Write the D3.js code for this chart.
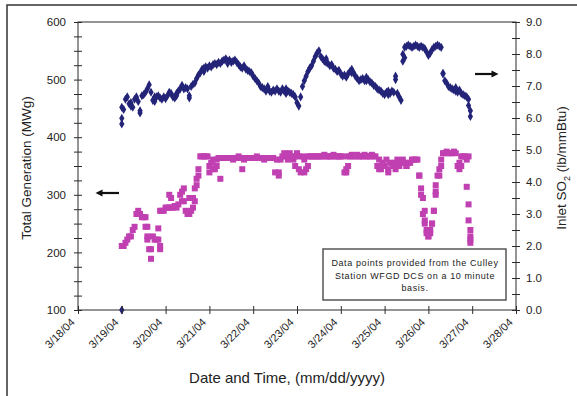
<!DOCTYPE html>
<html>
<head>
<meta charset="utf-8">
<script src="https://cdn.jsdelivr.net/npm/d3@7"></script>
<style>
  body { margin: 0; background: #fff; }
  svg text { font-family: "Liberation Sans", Arial, sans-serif; fill: #222; }
</style>
</head>
<body>
<div id="chart"></div>
<script>
// hourly samples starting 3/19/04 00:00
const genMW = [
  452, 448, 466, 470, 458, 454, 452, 466, 470, 462, 442, 472,
  474, 478, 484, 491, 478, 464, 462, 470, 472, 468, 466, 470,
  467, 472, 478, 476, 470, 468, 472, 480, 484, 490, 484, 486,
  484, 468, 488, 492, 494, 502, 508, 512, 518, 520, 522, 520,
  524, 522, 526, 528, 526, 530, 528, 532, 534, 536, 532, 534,
  530, 532, 534, 530, 526, 522, 520, 524, 518, 516, 514, 512,
  506, 502, 498, 494, 488, 486, 484, 480, 484, 480, 478, 482,
  480, 484, 480, 478, 484, 480, 476, 480, 478, 476, 474, 470,
  460, 454, 470, 488, 498, 506, 514, 520, 524, 532, 540, 546,
  550, 540, 536, 532, 530, 528, 524, 526, 520, 518, 514, 516,
  510, 506, 508, 504, 510, 514, 518, 512, 506, 502, 498, 500,
  502, 498, 504, 500, 496, 494, 490, 488, 484, 482, 480, 476,
  474, 478, 474, 476, 480, 478, 506, 476, 470, 464, 544, 556,
  558, 560, 558, 556, 558, 560, 558, 556, 558, 556, 554, 548,
  542, 546, 552, 556, 558, 560, 558, 556, 510, 498, 494, 488,
  486, 484, 482, 480, 478, 482, 476, 474, 472, 470, 466, 446
];
// extra generation readings: [hour, MWg]
const genExtra = [
  [0, 433], [0, 423], [0, 100], [10, 446], [37, 472], [150, 500],
  [154, 532], [155, 538], [176, 511], [190, 455], [191, 436],
  [5, 460], [18, 470], [30, 476], [45, 514], [58, 528], [80, 488],
  [90, 484], [112, 536], [126, 512], [134, 498], [146, 480], [183, 486]
];

const so2 = [
  2.0, 2.0, 2.1, 2.2, 2.3, 2.3, 2.5, 2.6, 3.0, 3.1, 3.0, 2.9,
  2.9, 2.6, 2.2, 1.9, 1.6, 2.3, 2.2, 2.2, 2.2, 3.1, 3.1, 3.1,
  3.2, 3.2, 3.2, 3.2, 3.2, 3.25, 3.2, 3.3, 3.6, 3.7, 3.4, 3.1,
  3.0, 3.0, 3.1, 3.5, 3.8, 4.1, 4.4, 4.8, 4.8, 4.8, 4.8, 4.8,
  4.5, 4.6, 4.7, 4.4, 4.7, 4.75, 4.1, 4.75, 4.75, 4.75, 4.75, 4.75,
  4.75, 4.7, 4.75, 4.75, 4.8, 4.75, 4.75, 4.7, 4.75, 4.75, 4.75, 4.75,
  4.75, 4.75, 4.8, 4.75, 4.75, 4.75, 4.7, 4.75, 4.75, 4.75, 4.75, 4.75,
  4.3, 4.7, 4.3, 4.7, 4.8, 4.9, 4.8, 4.7, 4.9, 4.8, 4.7, 4.8,
  4.9, 4.8, 4.3, 4.8, 4.7, 4.4, 4.8, 4.8, 4.8, 4.8, 4.8, 4.8,
  4.8, 4.8, 4.8, 4.85, 4.8, 4.8, 4.8, 4.8, 4.85, 4.8, 4.8, 4.8,
  4.8, 4.8, 4.3, 4.4, 4.8, 4.8, 4.85, 4.8, 4.8, 4.85, 4.8, 4.8,
  4.8, 4.85, 4.8, 4.8, 4.8, 4.85, 4.8, 4.8, 4.5, 4.7, 4.4, 4.6,
  4.5, 4.7, 4.4, 4.6, 4.6, 4.5, 4.6, 4.7, 4.5, 4.6, 4.7, 4.6,
  4.5, 4.6, 4.6, 4.7, 4.7, 4.7, 4.7, 4.2, 3.6, 3.0, 2.7, 2.4,
  2.3, 2.5, 2.7, 3.1, 3.7, 4.2, 4.4, 4.7, 4.9, 4.9, 4.95, 4.9,
  4.9, 4.9, 4.95, 4.9, 4.5, 4.6, 4.8, 4.8, 4.8, 4.7, 4.8, 2.2
];
// extra SO2 readings: [hour, lb/mmBtu]
const so2Extra = [
  [13, 2.9], [14, 2.6], [14, 2.3], [16, 1.9], [20, 2.55], [21, 1.9], [21, 2.0],
  [26, 3.6], [27, 3.5], [33, 3.4], [34, 3.8], [37, 3.5], [39, 3.2], [40, 3.4],
  [41, 3.9], [42, 4.2], [48, 4.3], [50, 4.4], [52, 4.5], [66, 4.4], [86, 4.2],
  [95, 4.5], [97, 4.4], [100, 4.3], [102, 4.5], [123, 4.3], [124, 4.5],
  [141, 4.4], [143, 4.6], [146, 4.3], [150, 4.4], [152, 4.5], [156, 4.5],
  [163, 4.2], [164, 3.8], [165, 3.5], [166, 3.1], [166, 2.8], [167, 2.5],
  [168, 2.3], [169, 2.4], [170, 2.7], [171, 3.1], [172, 3.6], [172, 3.9],
  [174, 4.2], [175, 4.5], [185, 4.4], [186, 4.5], [189, 3.85], [190, 3.3],
  [190, 2.8], [191, 2.5], [191, 2.3], [191, 2.1]
];

const dayTicks = ["3/18/04", "3/19/04", "3/20/04", "3/21/04", "3/22/04", "3/23/04",
  "3/24/04", "3/25/04", "3/26/04", "3/27/04", "3/28/04"];
const leftTicks = [100, 200, 300, 400, 500, 600];
const rightTicks = [0, 1, 2, 3, 4, 5, 6, 7, 8, 9];
const noteLines = ["Data points provided from the Culley", "Station WFGD DCS on a 10 minute", "basis."];

const W = 577, H = 396;
const pLeft = 78, pRight = 516, pTop = 22, pBottom = 310;
const blue = "#232378", pink = "#c040b2", axisCol = "#2a2a2a";

const at = h => new Date(2004, 2, 19, h);
const parseDay = d3.timeParse("%m/%d/%y");

let x = d3.scaleTime()
  .domain([new Date(2004, 2, 18), new Date(2004, 2, 28)])
  .range([pLeft, pRight]);
let yL = d3.scaleLinear().domain([100, 600]).range([pBottom, pTop]);
let yR = d3.scaleLinear().domain([0, 9]).range([pBottom, pTop]);

let svg = d3.select("#chart").append("svg")
  .attr("width", W).attr("height", H);

// outer frame
svg.append("rect")
  .attr("x", 7).attr("y", 5).attr("width", 620).attr("height", 420)
  .attr("fill", "none").attr("stroke", "#333").attr("stroke-width", 1.5);

// plot box
svg.append("rect")
  .attr("x", pLeft).attr("y", pTop).attr("width", pRight - pLeft).attr("height", pBottom - pTop)
  .attr("fill", "none").attr("stroke", axisCol).attr("stroke-width", 1);

// data
let genPts = genMW.map((v, h) => [h, v]).concat(genExtra);
svg.append("g").selectAll("path")
  .data(genPts)
  .join("path")
  .attr("transform", d => `translate(${x(at(d[0]))},${yL(d[1])})`)
  .attr("d", d3.symbol(d3.symbolDiamond, 24))
  .attr("fill", blue);

let so2Pts = so2.map((v, h) => [h, v]).concat(so2Extra);
svg.append("g").selectAll("rect")
  .data(so2Pts)
  .join("rect")
  .attr("x", d => x(at(d[0])) - 3)
  .attr("y", d => yR(d[1]) - 3)
  .attr("width", 6).attr("height", 6)
  .attr("fill", pink);

// axes
function crossTicks(g, len) {
  g.select(".domain").remove();
  g.selectAll(".tick line").attr("stroke", axisCol).attr(len[0], -4).attr(len[1], 4);
}

let gL = svg.append("g").attr("transform", `translate(${pLeft},0)`)
  .call(d3.axisLeft(yL).tickValues(d3.range(100, 601, 25))
    .tickFormat(d => leftTicks.includes(d) ? d : "").tickSize(4).tickPadding(8));
crossTicks(gL, ["x1", "x2"]);
gL.selectAll("text").attr("font-size", 11.5).attr("font-family", null);

let gR = svg.append("g").attr("transform", `translate(${pRight},0)`)
  .call(d3.axisRight(yR).tickValues(d3.range(0, 9.01, 0.5))
    .tickFormat(d => rightTicks.includes(d) ? d3.format(".1f")(d) : "").tickSize(4).tickPadding(6));
crossTicks(gR, ["x1", "x2"]);
gR.selectAll("text").attr("font-size", 11.5).attr("font-family", null);

let gX = svg.append("g").attr("transform", `translate(0,${pBottom})`)
  .call(d3.axisBottom(x).tickValues(dayTicks.map(parseDay))
    .tickFormat(d3.timeFormat("%-m/%-d/%y")).tickSize(4));
crossTicks(gX, ["y1", "y2"]);
gX.selectAll("text")
  .text((d, i) => dayTicks[i])
  .attr("font-size", 11).attr("font-family", null)
  .attr("text-anchor", "end")
  .attr("dy", null).attr("y", 0)
  .attr("transform", "translate(-3,13) rotate(-45)");

// axis titles
svg.append("text")
  .attr("transform", `translate(31,168) rotate(-90)`)
  .attr("text-anchor", "middle").attr("font-size", 13.5)
  .text("Total Generation (MWg)");

let rt = svg.append("text")
  .attr("transform", `translate(566,168) rotate(-90)`)
  .attr("text-anchor", "middle").attr("font-size", 13.5);
rt.append("tspan").text("Inlet SO");
rt.append("tspan").attr("font-size", 9).attr("dy", 4).text("2");
rt.append("tspan").attr("dy", -4).text(" (lb/mmBtu)");

svg.append("text")
  .attr("x", 287).attr("y", 383)
  .attr("text-anchor", "middle").attr("font-size", 15)
  .text("Date and Time, (mm/dd/yyyy)");

// arrows pointing at each series' axis
svg.append("defs").append("marker")
  .attr("id", "head").attr("viewBox", "0 0 10 10")
  .attr("refX", 5).attr("refY", 5)
  .attr("markerWidth", 3.2).attr("markerHeight", 3.2)
  .attr("orient", "auto")
  .append("path").attr("d", "M0,0L10,5L0,10z").attr("fill", "#111");

svg.append("line")
  .attr("x1", 119).attr("y1", 193).attr("x2", 99).attr("y2", 193)
  .attr("stroke", "#111").attr("stroke-width", 2.2).attr("marker-end", "url(#head)");
svg.append("line")
  .attr("x1", 475).attr("y1", 74).attr("x2", 495).attr("y2", 74)
  .attr("stroke", "#111").attr("stroke-width", 2.2).attr("marker-end", "url(#head)");

// note box
svg.append("rect")
  .attr("x", 323).attr("y", 249).attr("width", 183).attr("height", 51)
  .attr("fill", "#fff").attr("stroke", "#555").attr("stroke-width", 1.5);
svg.append("g").selectAll("text")
  .data(noteLines)
  .join("text")
  .attr("x", 415).attr("y", (d, i) => 266 + i * 12.5)
  .attr("text-anchor", "middle").attr("font-size", 9).attr("letter-spacing", 0.6)
  .text(d => d);
</script>
</body>
</html>
